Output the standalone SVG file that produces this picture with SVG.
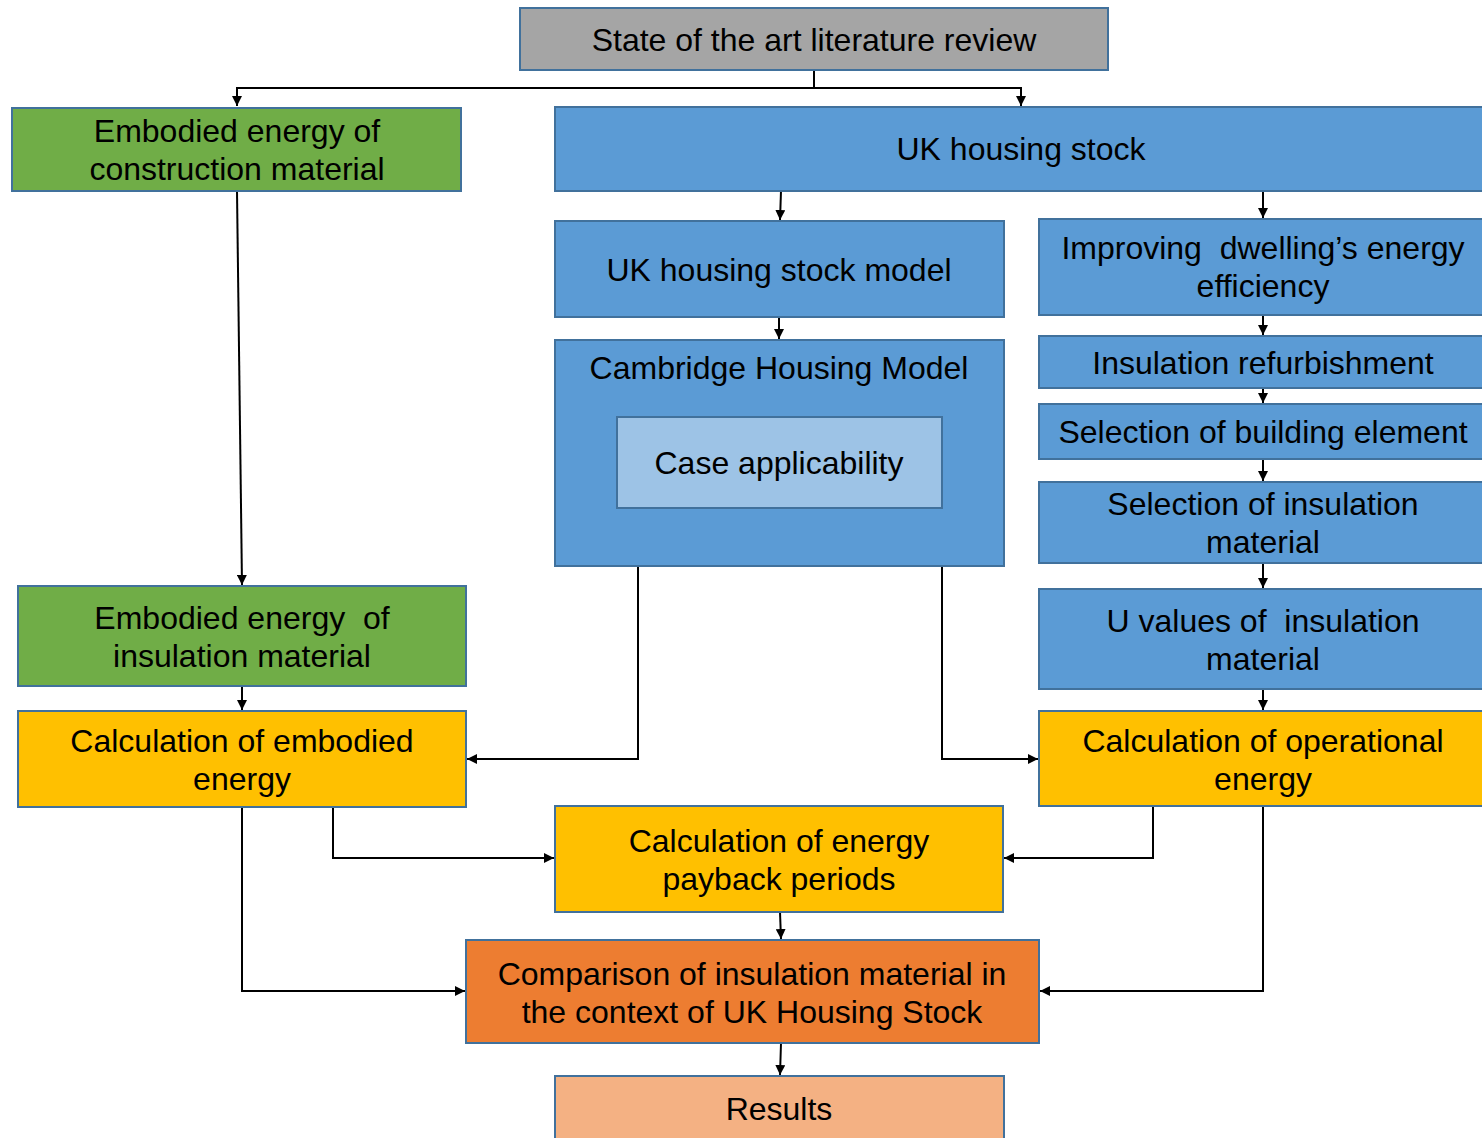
<svg xmlns="http://www.w3.org/2000/svg" width="1482" height="1138" viewBox="0 0 1482 1138">
<defs>
<marker id="arr" viewBox="0 0 10 10" refX="10" refY="5" markerWidth="10" markerHeight="10" markerUnits="userSpaceOnUse" orient="auto"><path d="M0,0 L10,5 L0,10 z" fill="#000"/></marker>
<style>
.b{stroke:#41719c;stroke-width:2}
.gray{fill:#a5a5a5}.green{fill:#70ad47}.blue{fill:#5b9bd5}.lblue{fill:#9dc3e6}.yel{fill:#ffc000}.org{fill:#ed7d31}.peach{fill:#f4b183}
text{font-family:"Liberation Sans",Arial,sans-serif;font-size:32px;fill:#000;text-anchor:middle;white-space:pre}
.c{fill:none;stroke:#000;stroke-width:2}
</style>
</defs>
<g id="connectors">
<path class="c" d="M814,70 V88 H237 V106" marker-end="url(#arr)"/>
<path class="c" d="M814,88 H1021 V106" marker-end="url(#arr)"/>
<path class="c" d="M237,191 L242,585" marker-end="url(#arr)"/>
<path class="c" d="M781,191 L780,220" marker-end="url(#arr)"/>
<path class="c" d="M1263,191 V218" marker-end="url(#arr)"/>
<path class="c" d="M779,317 V339" marker-end="url(#arr)"/>
<path class="c" d="M1263,315 V335" marker-end="url(#arr)"/>
<path class="c" d="M1263,388 V403" marker-end="url(#arr)"/>
<path class="c" d="M1263,459 V481" marker-end="url(#arr)"/>
<path class="c" d="M1263,563 V588" marker-end="url(#arr)"/>
<path class="c" d="M1263,689 V710" marker-end="url(#arr)"/>
<path class="c" d="M242,686 V710" marker-end="url(#arr)"/>
<path class="c" d="M638,566 V759 H467" marker-end="url(#arr)"/>
<path class="c" d="M942,566 V759 H1038" marker-end="url(#arr)"/>
<path class="c" d="M333,807 V858 H554" marker-end="url(#arr)"/>
<path class="c" d="M242,807 V991 H465" marker-end="url(#arr)"/>
<path class="c" d="M1165,806 H1153 V858 H1004" marker-end="url(#arr)"/>
<path class="c" d="M1263,806 V991 H1040" marker-end="url(#arr)"/>
<path class="c" d="M780,912 L781,939" marker-end="url(#arr)"/>
<path class="c" d="M781,1043 L780,1075" marker-end="url(#arr)"/>
</g>
<g id="n-state"><rect class="b gray" x="520" y="8" width="588" height="62"/><text x="814" y="51">State of the art literature review</text></g>
<g id="n-emb-constr"><rect class="b green" x="12" y="108" width="449" height="83"/><text x="237" y="142">Embodied energy of</text><text x="237" y="180">construction material</text></g>
<g id="n-uk-stock"><rect class="b blue" x="555" y="107" width="933" height="84"/><text x="1021" y="160">UK housing stock</text></g>
<g id="n-uk-model"><rect class="b blue" x="555" y="221" width="449" height="96"/><text x="779" y="281">UK housing stock model</text></g>
<g id="n-improving"><rect class="b blue" x="1039" y="219" width="449" height="96"/><text x="1263" y="259">Improving  dwelling’s energy</text><text x="1263" y="297">efficiency</text></g>
<g id="n-refurb"><rect class="b blue" x="1039" y="336" width="449" height="52"/><text x="1263" y="374">Insulation refurbishment</text></g>
<g id="n-sel-elem"><rect class="b blue" x="1039" y="404" width="449" height="55"/><text x="1263" y="443">Selection of building element</text></g>
<g id="n-sel-ins"><rect class="b blue" x="1039" y="482" width="449" height="81"/><text x="1263" y="515">Selection of insulation</text><text x="1263" y="553">material</text></g>
<g id="n-uvalues"><rect class="b blue" x="1039" y="589" width="449" height="100"/><text x="1263" y="632">U values of  insulation</text><text x="1263" y="670">material</text></g>
<g id="n-cambridge"><rect class="b blue" x="555" y="340" width="449" height="226"/><text x="779" y="379">Cambridge Housing Model</text>
<g id="n-case"><rect class="b lblue" x="617" y="417" width="325" height="91"/><text x="779" y="474">Case applicability</text></g></g>
<g id="n-emb-ins"><rect class="b green" x="18" y="586" width="448" height="100"/><text x="242" y="629">Embodied energy  of</text><text x="242" y="667">insulation material</text></g>
<g id="n-calc-emb"><rect class="b yel" x="18" y="711" width="448" height="96"/><text x="242" y="752">Calculation of embodied</text><text x="242" y="790">energy</text></g>
<g id="n-calc-op"><rect class="b yel" x="1039" y="711" width="449" height="95"/><text x="1263" y="752">Calculation of operational</text><text x="1263" y="790">energy</text></g>
<g id="n-payback"><rect class="b yel" x="555" y="806" width="448" height="106"/><text x="779" y="852">Calculation of energy</text><text x="779" y="890">payback periods</text></g>
<g id="n-compare"><rect class="b org" x="466" y="940" width="573" height="103"/><text x="752" y="985">Comparison of insulation material in</text><text x="752" y="1023">the context of UK Housing Stock</text></g>
<g id="n-results"><rect class="b peach" x="555" y="1076" width="449" height="70"/><text x="779" y="1120">Results</text></g>
</svg>
